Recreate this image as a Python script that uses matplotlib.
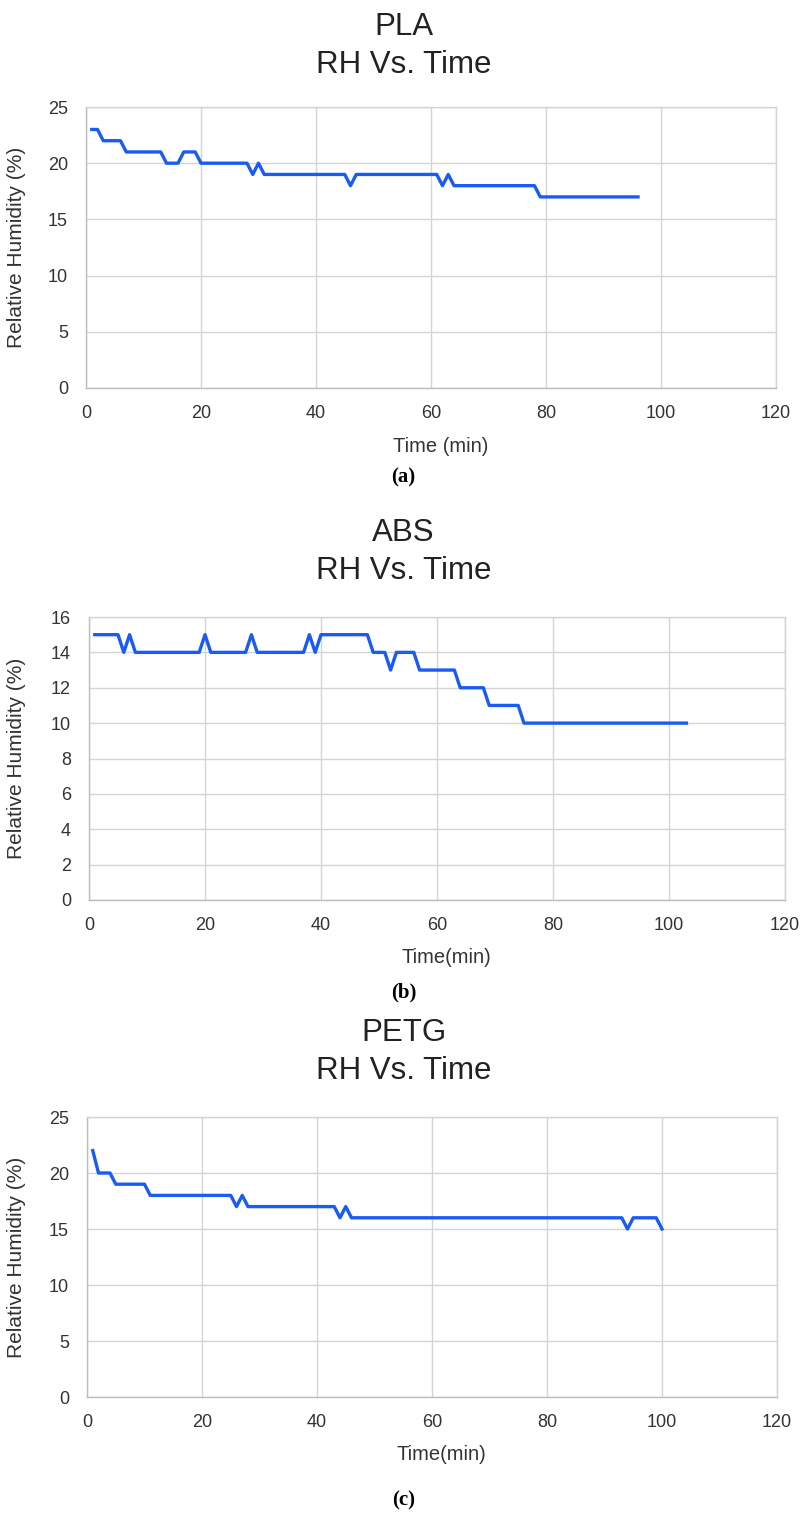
import matplotlib
matplotlib.use("Agg")
import matplotlib.pyplot as plt

# ---- data: relative humidity readings (vertices of the logged trace) ----
pla_time = [1, 2, 3, 6, 7, 13, 14, 16, 17, 19, 20, 28, 29, 30, 31, 45, 46, 47,
            61, 62, 63, 64, 78, 79, 96]
pla_rh = [23, 23, 22, 22, 21, 21, 20, 20, 21, 21, 20, 20, 19, 20, 19, 19, 18, 19,
          19, 18, 19, 18, 18, 17, 17]

abs_time = [1, 5, 6, 7, 8, 19, 20, 21, 27, 28, 29, 37, 38, 39, 40, 48, 49, 51,
            52, 53, 56, 57, 63, 64, 68, 69, 74, 75, 103]
abs_rh = [15, 15, 14, 15, 14, 14, 15, 14, 14, 15, 14, 14, 15, 14, 15, 15, 14, 14,
          13, 14, 14, 13, 13, 12, 12, 11, 11, 10, 10]

petg_time = [1, 2, 4, 5, 10, 11, 25, 26, 27, 28, 43, 44, 45, 46, 93, 94, 95, 99, 100]
petg_rh = [22, 20, 20, 19, 19, 18, 18, 17, 18, 17, 17, 16, 17, 16, 16, 15, 16, 16, 15]

materials = ["PLA", "ABS", "PETG"]
subtitle = "RH Vs. Time"
captions = ["(a)", "(b)", "(c)"]
xlabels = ["Time (min)", "Time(min)", "Time(min)"]
ylabel = "Relative Humidity (%)"
x_ticks = [0, 20, 40, 60, 80, 100, 120]
y_ticks = [[0, 5, 10, 15, 20, 25],
           list(range(0, 17, 2)),
           [0, 5, 10, 15, 20, 25]]

series = [(pla_time, pla_rh), (abs_time, abs_rh), (petg_time, petg_rh)]

# ---- layout (pixels) ----
W, H = 807, 1524
fig = plt.figure(figsize=(W / 100, H / 100), dpi=100)
plt.rcParams["font.family"] = ["Liberation Sans", "DejaVu Sans"]

# left, right, top, bottom of each plot area
boxes = [(86, 776, 107, 388), (89, 785, 617, 900), (87, 777, 1117, 1397)]
title_y = [(27, 65), (533, 571), (1033, 1071)]
xlabel_y = [447, 958, 1455]
caption_y = [477, 992, 1500]

LINE = "#1a5af5"
GRID = "#d4d4d4"

def fy(py):
    return 1 - py / H

for i, (l, r, t, b) in enumerate(boxes):
    ax = fig.add_axes([l / W, fy(b), (r - l) / W, (b - t) / H])
    xs, ys = series[i]
    ax.plot(xs, ys, color=LINE, lw=2.4, solid_joinstyle="round", zorder=3)
    ax.set_xlim(0, 120)
    ax.set_ylim(y_ticks[i][0], y_ticks[i][-1])
    ax.set_xticks(x_ticks)
    ax.set_yticks(y_ticks[i])
    ax.grid(True, color=GRID, lw=1.0)
    ax.set_axisbelow(True)
    for side in ["top", "right"]:
        ax.spines[side].set_color(GRID)
        ax.spines[side].set_linewidth(1.0)
    for side in ["left", "bottom"]:
        ax.spines[side].set_color("#bdbdbd")
        ax.spines[side].set_linewidth(1.0)
    ax.tick_params(length=0, labelsize=13, colors="#333333")
    ax.tick_params(axis="y", pad=13)
    ax.tick_params(axis="x", pad=12)
    ax.set_ylabel(ylabel, fontsize=15, color="#333333")
    ax.yaxis.set_label_coords(-(l - 26) / (r - l), 0.5)

    fig.text(0.5, fy(title_y[i][0]), materials[i], ha="center", va="center",
             fontsize=22.5, color="#222222")
    fig.text(0.5, fy(title_y[i][1]), subtitle, ha="center", va="center",
             fontsize=22.5, color="#222222")
    fig.text((l + r) / 2 / W + 0.012, fy(xlabel_y[i]), xlabels[i], ha="center",
             va="center", fontsize=14.5, color="#333333")
    fig.text(0.5, fy(caption_y[i]), captions[i], ha="center", va="center",
             fontsize=15, fontweight="bold", family="Liberation Serif")

fig.savefig("out.png", dpi=100, facecolor="white")
